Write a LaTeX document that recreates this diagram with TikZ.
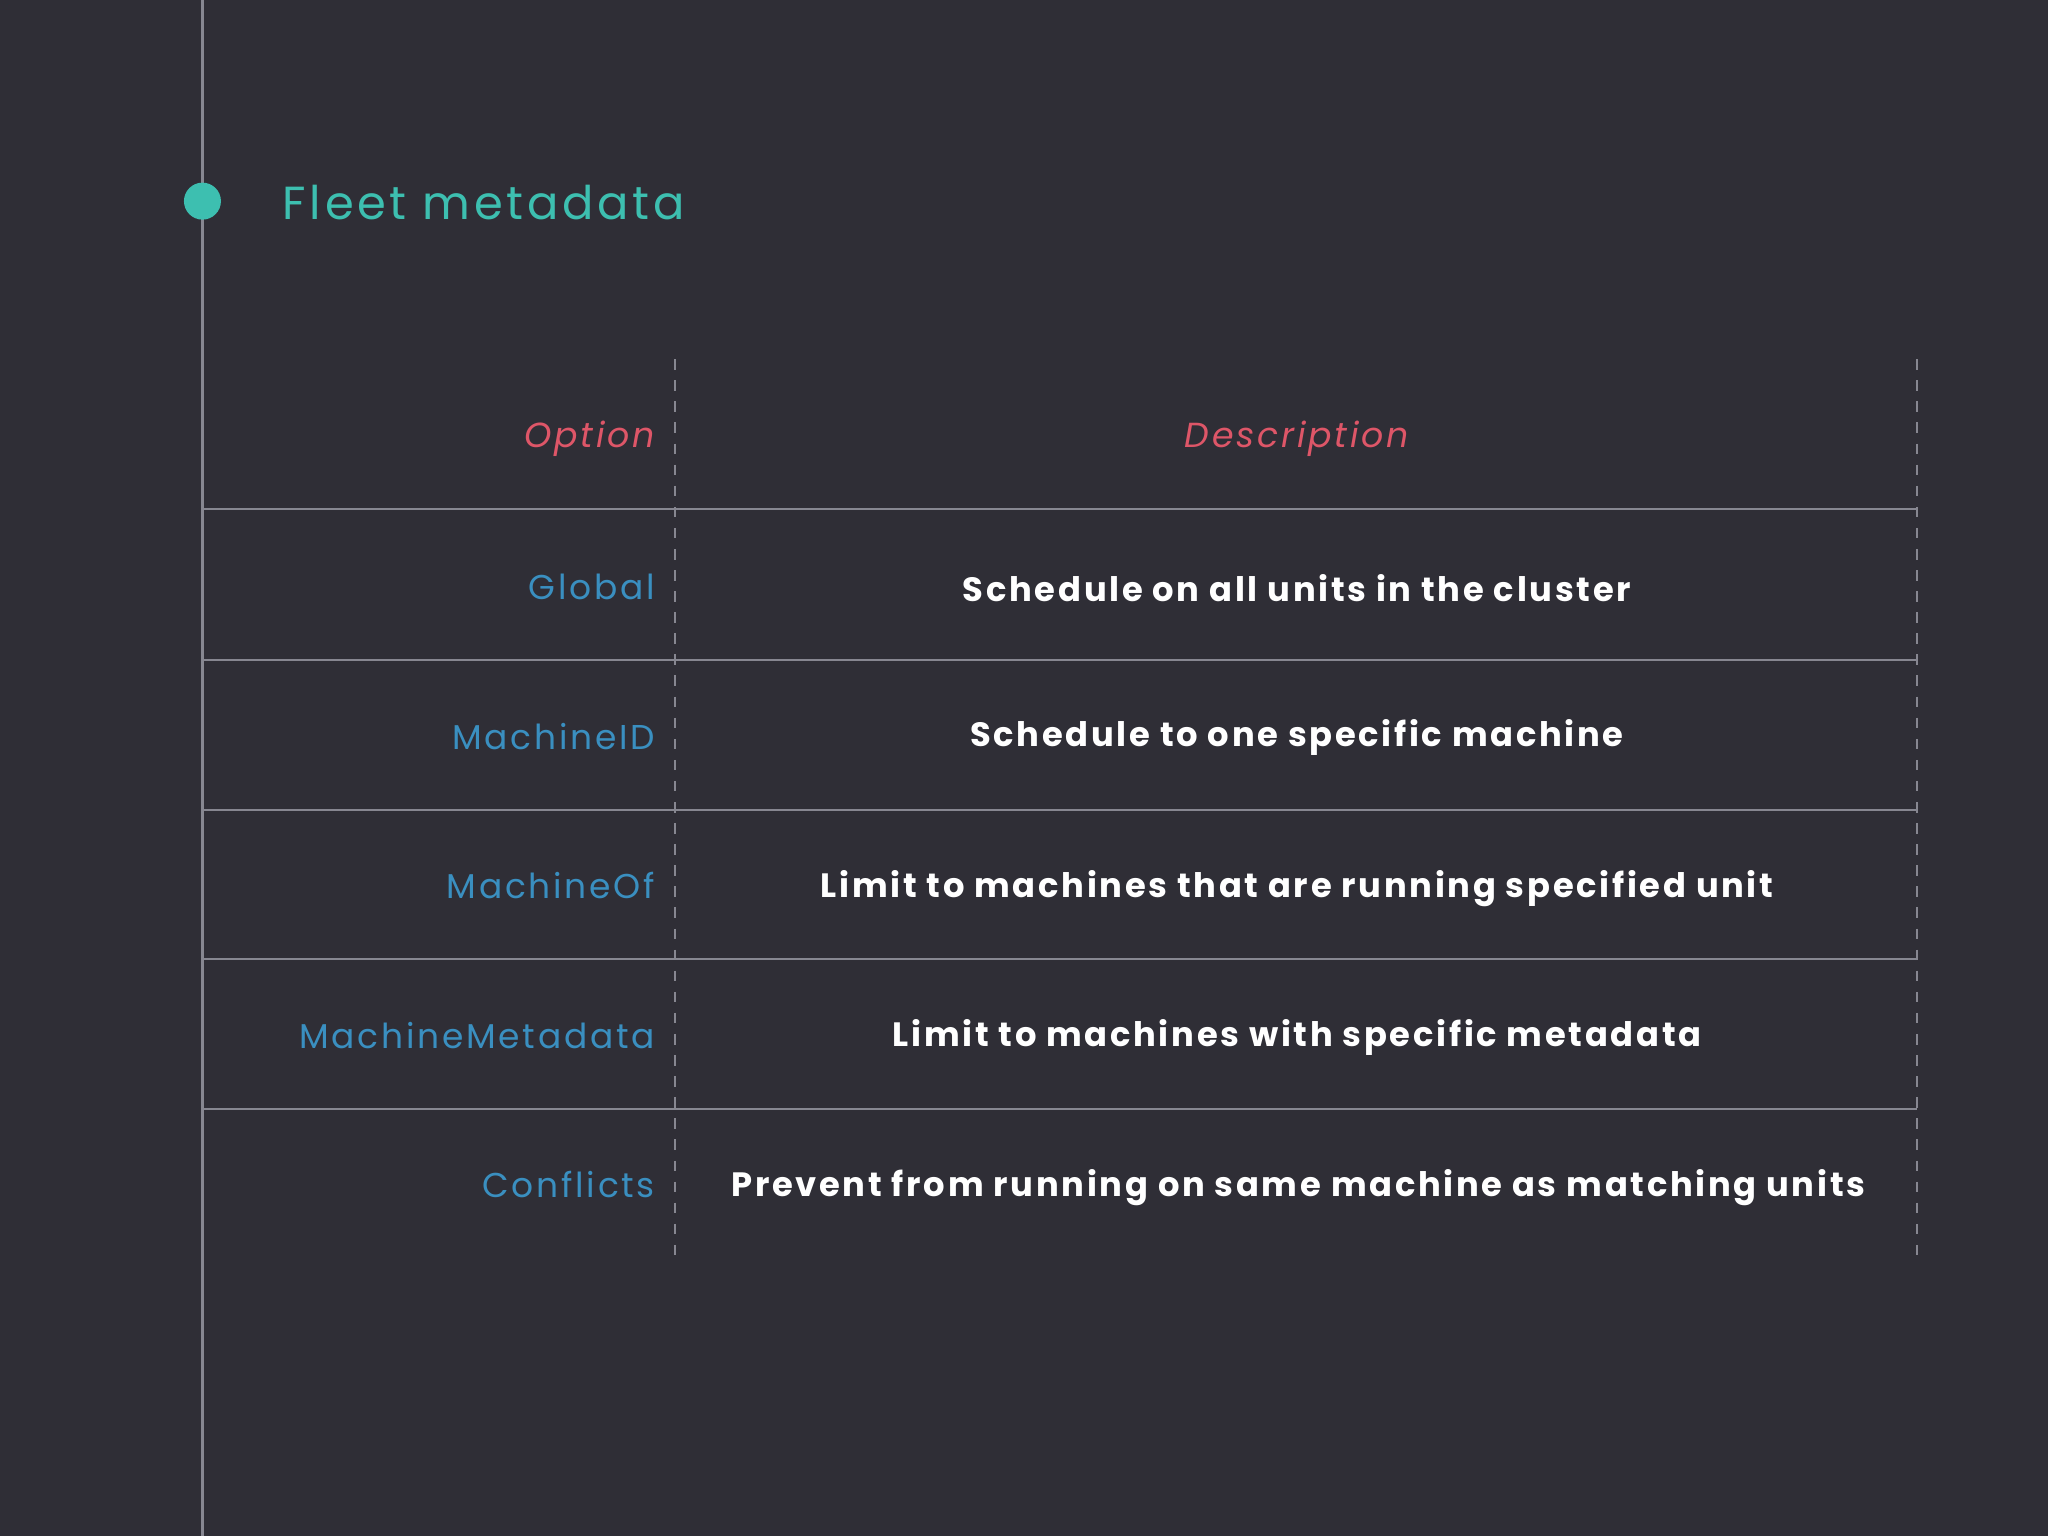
\documentclass[tikz,border=0pt]{standalone}
\usepackage{fontspec}
\setmainfont{Poppins}
\newfontfamily\spaced[LetterSpace=8]{Poppins}
\newfontfamily\spacedb[LetterSpace=8]{Poppins}
\definecolor{bg}{RGB}{47,46,54}
\definecolor{rule}{RGB}{135,135,145}
\definecolor{teal}{RGB}{61,191,176}
\definecolor{pinkc}{RGB}{222,86,104}
\definecolor{bluec}{RGB}{58,143,192}
\tikzset{
 hline/.style={draw=rule,line width=0.6pt},
 dline/.style={draw=rule,dashed,line width=0.6pt},
 opt/.style={anchor=east,text=bluec,font=\spaced\fontsize{9.8}{12}\selectfont,inner sep=0},
 hdr/.style={text=pinkc,font=\spaced\itshape\fontsize{9.9}{12}\selectfont,inner sep=0},
 desc/.style={text=white,font=\spacedb\bfseries\fontsize{9.6}{12}\selectfont,inner sep=0}
}
\begin{document}
\begin{tikzpicture}[x=0.01306cm,y=-0.01306cm]
\fill[bg] (0,0) rectangle (1568,1176);
\useasboundingbox (0,0) rectangle (1568,1176);
\coordinate (vt) at (155,0); \coordinate (vb) at (155,1176);
\draw[hline] (vt) -- (vb);
\node[circle,fill=teal,minimum size=0.37cm,inner sep=0] (dot) at (155,154) {};
\node[anchor=west,text=teal,font=\spaced\fontsize{13.2}{16}\selectfont,inner sep=0] (title) at (216,155) {Fleet metadata};
\foreach \y/\n in {390/a,505/b,620/c,734/d,849/e}{
 \coordinate (l\n) at (155,\y); \coordinate (r\n) at (1468,\y);
 \draw[hline] (l\n) -- (r\n);}
\coordinate (d1t) at (517,275); \coordinate (d1b) at (517,965);
\coordinate (d2t) at (1468,275); \coordinate (d2b) at (1468,965);
\draw[dline] (d1t) -- (d1b);
\draw[dline] (d2t) -- (d2b);
\node[hdr,anchor=east] (ho) at (502,336) {Option};
\node[hdr] (hd) at (993,336) {Description};
\node[opt] (o1) at (502,449) {Global};
\node[opt] (o2) at (502,564) {MachineID};
\node[opt] (o3) at (502,678) {MachineOf};
\node[opt] (o4) at (502,793) {MachineMetadata};
\node[opt] (o5) at (502,907) {Conflicts};
\node[desc] (s1) at (993,450) {Schedule on all units in the cluster};
\node[desc] (s2) at (993,565) {Schedule to one specific machine};
\node[desc] (s3) at (993,680) {Limit to machines that are running specified unit};
\node[desc] (s4) at (993,794) {Limit to machines with specific metadata};
\node[desc] (s5) at (994,909) {Prevent from running on same machine as matching units};
\end{tikzpicture}
\end{document}
